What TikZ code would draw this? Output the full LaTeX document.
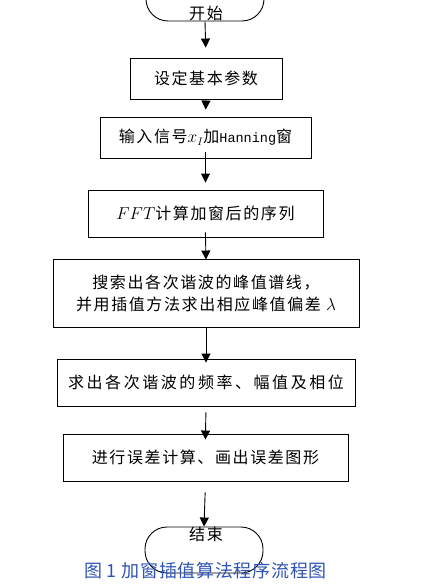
\documentclass[tikz,border=0pt]{standalone}
\usepackage{fontspec}
\newfontfamily\cjk[LetterSpace=10]{Noto Sans CJK SC}
\newfontfamily\cjkwide[LetterSpace=16]{Noto Sans CJK SC}
\newfontfamily\cjkcap[LetterSpace=4]{Noto Sans CJK SC}
\newfontfamily\monof{Liberation Mono}
\usetikzlibrary{arrows.meta}
\definecolor{capblue}{RGB}{47,84,180}
\tikzset{
  procbox/.style={draw, line width=0.9pt, inner sep=0pt, align=center,
    font=\cjk\fontsize{16}{22}\selectfont},
  term/.style={draw, line width=0.9pt, rounded corners=22pt, inner sep=0pt,
    minimum width=118pt, minimum height=46pt},
  termtext/.style={inner sep=0pt, font=\cjk\fontsize{16}{20}\selectfont},
  flow/.style={-{Triangle[length=9pt,width=9pt]}, line width=0.9pt},
}
\begin{document}
\begin{tikzpicture}[x=1pt,y=-1pt]
\useasboundingbox (0,0) rectangle (429,588);
\fill[white] (0,0) rectangle (429,588);

\node[term] (start) at (205,-2) {};
\node[termtext] (starttxt) at (206,13) {开始};

\node[procbox, minimum width=152pt, minimum height=41pt] (b1) at (206,78.5) {设定基本参数};
\node[procbox, minimum width=211pt, minimum height=41pt] (b2) at (205.5,137.5)
  {输入信号$x_{I}$加{\monof\fontsize{13.5}{16}\selectfont Hanning}窗};
\node[procbox, minimum width=235pt, minimum height=47pt] (b3) at (205.5,213.5)
  {$FFT$计算加窗后的序列};
\node[procbox, minimum width=306pt, minimum height=68pt] (b4) at (206,293)
  {搜索出各次谐波的峰值谱线，\\并用插值方法求出相应峰值偏差 $\lambda$};
\node[procbox, minimum width=298pt, minimum height=47pt, font=\cjkwide\fontsize{16}{22}\selectfont] (b5) at (206,382.5)
  {求出各次谐波的频率、幅值及相位};
\node[procbox, minimum width=285pt, minimum height=47pt] (b6) at (205.5,457.5)
  {进行误差计算、画出误差图形};

\node[term] (end) at (204,550) {};
\node[termtext] (endtxt) at (206,534) {结束};

\draw[flow, shorten >=10pt] (start.south) -- (b1.north);
\draw[flow, shorten >=7pt] (b1.south) -- (b2.north);
\draw[flow, shorten <=-6pt, shorten >=7pt] (b2.south) -- (b3.north);
\draw[flow, shorten <=-5pt, shorten >=-1pt] (b3.south) -- (b4.north);
\draw[flow, shorten >=-4pt] (b4.south) -- (b5.north);
\draw[flow, shorten <=6pt, shorten >=-6pt] (b5.south) -- (b6.north);
\draw[flow, shorten <=11pt] (b6.south) -- (end.north);

\node[inner sep=0pt, text=capblue, font=\cjkcap\fontsize{18}{20}\selectfont] (caption) at (205.5,571)
  {图 1 加窗插值算法程序流程图};
\end{tikzpicture}
\end{document}
